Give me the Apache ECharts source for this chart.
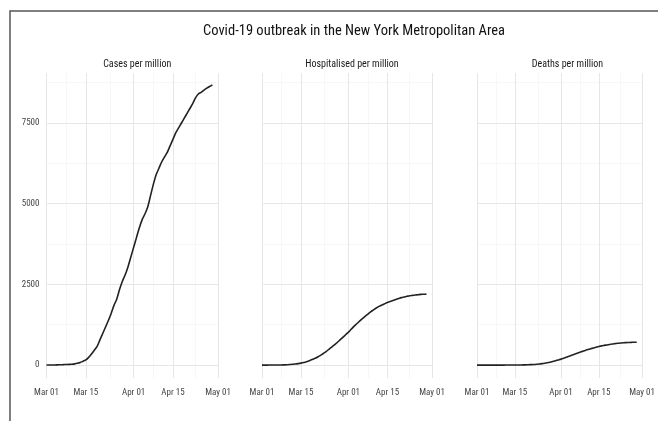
<!DOCTYPE html>
<html>
<head>
<meta charset="utf-8">
<script src="https://cdn.jsdelivr.net/npm/echarts@6/dist/echarts.min.js"></script>
<style>html,body{margin:0;padding:0;background:#fff}#c{width:658px;height:421px}</style>
</head>
<body>
<div id="c"></div>
<script>
// Day index 0 = Mar 01 (2020)
const days = [];
for (let i = 0; i < 60; i++) days.push(i);

const cases = [2,3,4,5,8,10,14,18,22,28,38,55,80,120,160,240,340,460,580,780,980,1180,1380,1600,1850,2050,2350,2600,2800,3050,3350,3650,3950,4250,4500,4680,4900,5250,5600,5900,6100,6300,6450,6600,6800,7000,7200,7350,7500,7650,7800,7950,8100,8280,8400,8450,8520,8580,8630,8680];
const hospitalised = [0,0,0,1,1,2,3,5,8,12,18,25,35,45,60,80,105,135,170,210,250,300,360,420,490,560,630,700,780,860,940,1020,1110,1200,1280,1360,1440,1510,1580,1650,1710,1770,1820,1860,1900,1940,1970,2000,2030,2060,2090,2110,2130,2150,2160,2170,2180,2190,2195,2200];
const deaths = [0,0,0,0,0,0,0,0,0,0,0,1,1,2,2,3,4,6,8,11,15,20,27,35,45,57,72,90,110,135,160,185,215,245,275,305,335,365,395,425,455,480,505,530,555,575,595,610,625,640,655,665,675,683,690,696,700,704,707,710];

const panelTitles = ['Cases per million', 'Hospitalised per million', 'Deaths per million'];
const xTickValues = [0, 14, 31, 45, 61];
const xTickLabels = ['Mar 01', 'Mar 15', 'Apr 01', 'Apr 15', 'May 01'];
const xMinorValues = [7, 22.5, 38, 53];
const yTickValues = [0, 2500, 5000, 7500];
const yMinorValues = [1250, 3750, 6250, 8750];

const FONT = '"Liberation Sans Narrow", "Roboto Condensed", "Arial Narrow", "Liberation Sans", sans-serif';
const seriesData = [cases, hospitalised, deaths];
const grids = [
  {left: 46.5, width: 171.5, top: 73, height: 305},
  {left: 262, width: 170, top: 73, height: 305},
  {left: 477, width: 171, top: 73, height: 305}
];

const xAxes = [], yAxes = [], series = [], titles = [];
titles.push({text: 'Covid-19 outbreak in the New York Metropolitan Area', left: 349, top: 19, textAlign: 'center',
  textStyle: {fontFamily: FONT, fontSize: 14.5, fontWeight: 'normal', color: '#111'}});

grids.forEach((g, i) => {
  xAxes.push({type: 'value', gridIndex: i, min: 0, max: 61,
    axisLine: {show: false}, axisTick: {show: false}, splitLine: {show: false},
    axisLabel: {customValues: xTickValues, margin: 10, fontFamily: FONT, fontSize: 9, color: '#444',
      formatter: v => xTickLabels[xTickValues.indexOf(v)] || ''}});
  yAxes.push({type: 'value', gridIndex: i, min: -400, max: 9050,
    axisLine: {show: false}, axisTick: {show: false}, splitLine: {show: false},
    axisLabel: {show: i === 0, customValues: yTickValues, margin: 7, fontFamily: FONT, fontSize: 9, color: '#444',
      formatter: v => String(v)}});
  titles.push({text: panelTitles[i], left: g.left + g.width / 2, top: 54, textAlign: 'center',
    textStyle: {fontFamily: FONT, fontSize: 10, fontWeight: 'normal', color: '#1a1a1a'}});
  const ml = [];
  yMinorValues.forEach(v => ml.push({yAxis: v, lineStyle: {color: '#f2f2f2', width: 0.6, type: 'solid'}}));
  xMinorValues.forEach(v => ml.push({xAxis: v, lineStyle: {color: '#f2f2f2', width: 0.6, type: 'solid'}}));
  yTickValues.forEach(v => ml.push({yAxis: v, lineStyle: {color: '#e6e6e6', width: 1, type: 'solid'}}));
  xTickValues.forEach(v => ml.push({xAxis: v, lineStyle: {color: '#e6e6e6', width: 1, type: 'solid'}}));
  series.push({type: 'line', xAxisIndex: i, yAxisIndex: i, data: [], z: 1, silent: true,
    markLine: {silent: true, z: 1, symbol: ['none', 'none'], label: {show: false}, animation: false,
      lineStyle: {type: 'solid'}, emphasis: {disabled: true}, data: ml}});
  series.push({type: 'line', xAxisIndex: i, yAxisIndex: i, z: 6, showSymbol: false, smooth: 0.3,
    lineStyle: {color: '#222', width: 1.6}, data: days.map((d, k) => [d, seriesData[i][k]])});
});

const chart = echarts.init(document.getElementById('c'), null, {renderer: 'canvas'});
chart.setOption({
  animation: false,
  backgroundColor: '#fff',
  title: titles,
  grid: grids,
  xAxis: xAxes,
  yAxis: yAxes,
  series: series,
  graphic: [{type: 'rect', shape: {x: 10, y: 11, width: 700, height: 500},
    style: {fill: 'none', stroke: '#555', lineWidth: 1.5}, silent: true}]
});
</script>
</body>
</html>
